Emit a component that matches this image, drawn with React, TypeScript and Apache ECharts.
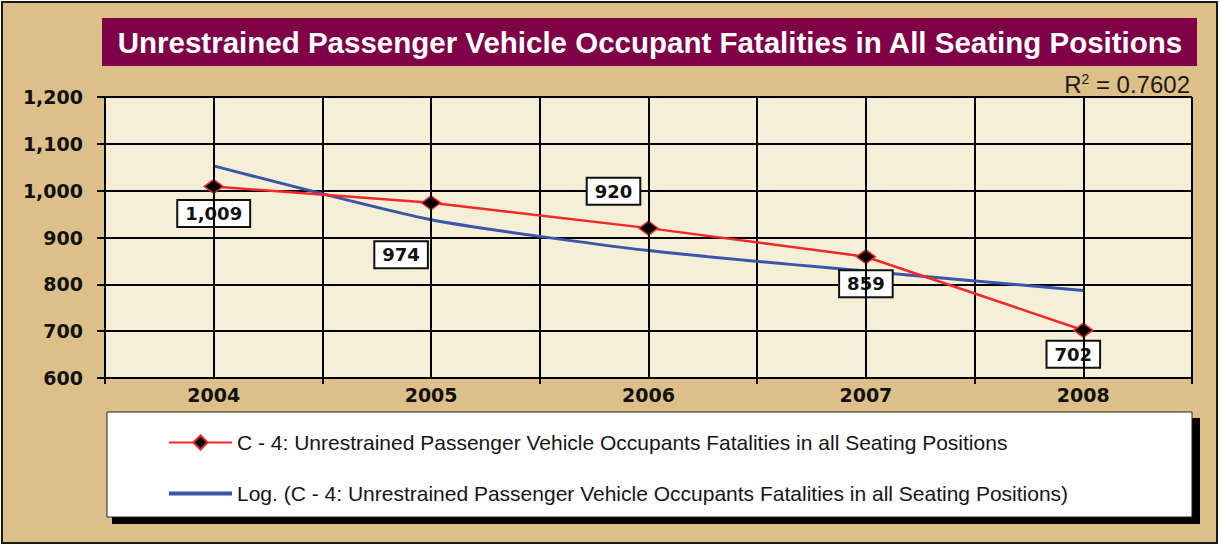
import React, { useEffect, useRef } from "react";
import * as echarts from "echarts";

const years = ["2004", "2005", "2006", "2007", "2008"];
const fatalities = [1009, 974, 920, 859, 702];
const trendValues = [1053, 938, 872, 828, 787];
const labelOffsets: [number, number][] = [
  [0, 27],
  [-30, 52],
  [-35, -37],
  [0, 27],
  [-10, 24],
];
const seriesName = "C - 4: Unrestrained Passenger Vehicle Occupants Fatalities in all Seating Positions";
const trendName = "Log. (C - 4: Unrestrained Passenger Vehicle Occupants Fatalities in all Seating Positions)";
const titleText = "Unrestrained Passenger Vehicle Occupant Fatalities in All Seating Positions";

export default function App() {
  const ref = useRef<HTMLDivElement>(null);
  useEffect(() => {
    document.body.style.margin = "0";
    const chart = echarts.init(ref.current!, null, { renderer: "svg" });
    const labelFont = "DejaVu Sans";
    chart.setOption({
      animation: false,
      backgroundColor: "#ffffff",
      grid: {
        left: 105,
        right: 28,
        top: 97,
        bottom: 168,
        show: true,
        backgroundColor: "#F5EFD8",
        borderWidth: 0,
      },
      legend: {
        data: [
          seriesName,
          { name: trendName, icon: "path://M0,0H100V6H0Z" },
        ],
        orient: "vertical",
        left: 163,
        top: 427,
        itemWidth: 63,
        itemHeight: 18,
        itemGap: 30,
        symbolKeepAspect: true,
        selectedMode: false,
        textStyle: { fontFamily: "Liberation Sans", fontSize: 21, color: "#151515" },
        z: 10,
      },
      xAxis: {
        type: "category",
        data: years,
        boundaryGap: true,
        axisLine: { show: true, lineStyle: { color: "#000", width: 2 } },
        axisTick: { show: true, length: 6, lineStyle: { color: "#000", width: 2 } },
        splitLine: { show: true, lineStyle: { color: "#000", width: 2 } },
        axisLabel: {
          margin: 7,
          fontFamily: labelFont,
          fontWeight: "bold",
          fontSize: 19,
          color: "#111",
        },
      },
      yAxis: {
        type: "value",
        min: 600,
        max: 1200,
        interval: 100,
        axisLine: { show: true, lineStyle: { color: "#000", width: 2 } },
        axisTick: { show: true, length: 8, lineStyle: { color: "#000", width: 2 } },
        splitLine: { show: true, lineStyle: { color: "#000", width: 2 } },
        axisLabel: {
          margin: 22,
          fontFamily: labelFont,
          fontWeight: "bold",
          fontSize: 19,
          color: "#111",
          formatter: (v: number) => v.toLocaleString("en-US"),
        },
      },
      series: [
        {
          type: "line",
          name: "centerLines",
          data: [],
          z: 1,
          silent: true,
          markLine: {
            silent: true,
            symbol: "none",
            label: { show: false },
            lineStyle: { color: "#000", width: 2, type: "solid" },
            data: years.map((y) => ({ xAxis: y })),
          },
        },
        {
          type: "line",
          name: trendName,
          data: trendValues,
          smooth: 0.2,
          symbol: "none",
          showSymbol: false,
          z: 3,
          lineStyle: { color: "#3B55A8", width: 3 },
          itemStyle: { color: "#3B55A8" },
        },
        {
          type: "line",
          name: seriesName,
          z: 4,
          data: fatalities.map((v, i) => ({
            value: v,
            label: {
              show: true,
              position: "inside",
              offset: labelOffsets[i],
            },
          })),
          symbol: "diamond",
          symbolSize: [19, 14],
          lineStyle: { color: "#F42828", width: 2.5 },
          itemStyle: { color: "#000", borderColor: "#F42828", borderWidth: 1.5 },
          label: {
            show: true,
            formatter: (p: any) => Number(p.value).toLocaleString("en-US"),
            fontFamily: labelFont,
            fontWeight: "bold",
            fontSize: 18,
            color: "#111",
            backgroundColor: "#fff",
            borderColor: "#111",
            borderWidth: 2,
            padding: [4, 7, 3, 7],
          },
        },
      ],
      graphic: [
        {
          type: "rect",
          z: -10,
          silent: true,
          shape: { x: 2, y: 2, width: 1215, height: 541 },
          style: { fill: "#DCBF89", stroke: "#1a1a1a", lineWidth: 2 },
        },
        {
          type: "rect",
          silent: true,
          shape: { x: 102, y: 18, width: 1095, height: 48 },
          style: { fill: "#7F0047" },
        },
        {
          type: "text",
          silent: true,
          x: 650,
          y: 42,
          style: {
            text: titleText,
            fill: "#ffffff",
            font: "bold 29.5px 'Liberation Sans', Arial, sans-serif",
            align: "center",
            verticalAlign: "middle",
          },
        },
        {
          type: "text",
          silent: true,
          x: 1190,
          y: 84,
          style: {
            text: "R{sup|2} = 0.7602",
            fill: "#1a1a1a",
            font: "24px 'Liberation Sans', Arial, sans-serif",
            align: "right",
            verticalAlign: "middle",
            rich: {
              sup: {
                font: "14px 'Liberation Sans', Arial, sans-serif",
                fill: "#1a1a1a",
                verticalAlign: "top",
                padding: [0, 0, 10, 0],
              },
            },
          },
        },
        {
          type: "rect",
          silent: true,
          z: 1,
          shape: { x: 112, y: 418, width: 1088, height: 106 },
          style: { fill: "#000" },
        },
        {
          type: "rect",
          silent: true,
          z: 2,
          shape: { x: 107, y: 412, width: 1085, height: 105 },
          style: { fill: "#fff", stroke: "#222", lineWidth: 1 },
        },
      ],
    });
    return () => chart.dispose();
  }, []);
  return <div ref={ref} style={{ width: 1220, height: 546 }} />;
}
